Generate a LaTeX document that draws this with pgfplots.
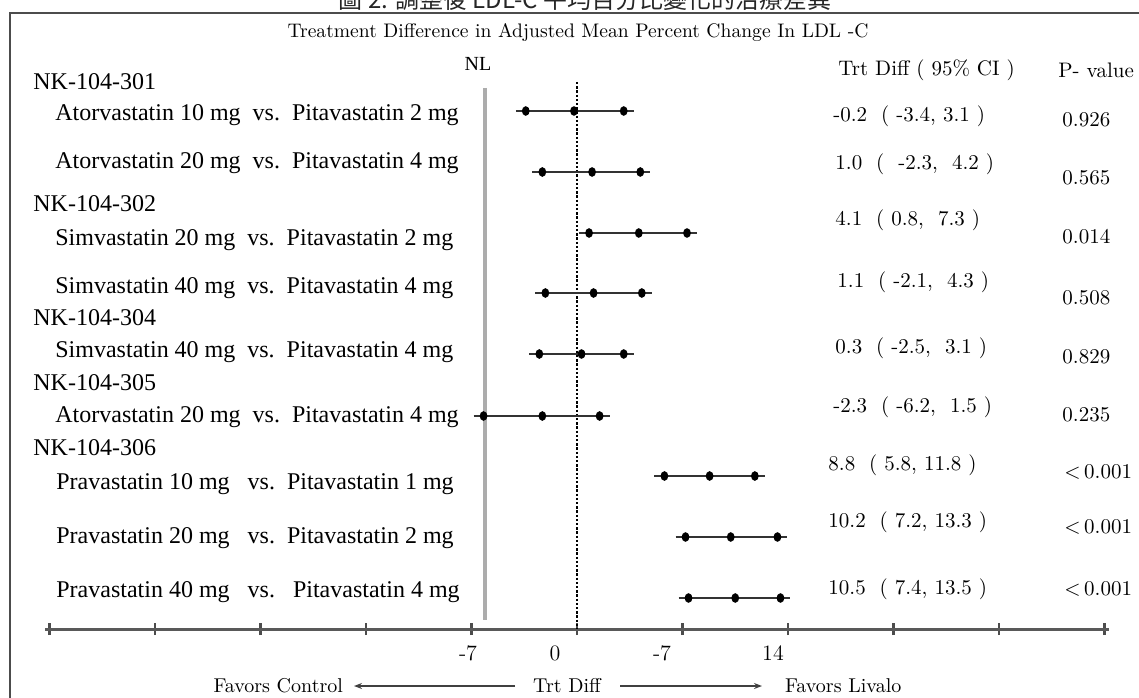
\documentclass[border=0pt]{standalone}
\usepackage{pgfplots}
\pgfplotsset{compat=1.18}
\usepackage{fontspec}
\usetikzlibrary{arrows.meta}
\newfontfamily\tnr{Liberation Serif}
\newfontfamily\cjk{Noto Sans CJK TC}
\begin{document}
\begin{tikzpicture}
\path[use as bounding box] (-22.5pt,-34pt) rectangle (547pt,314.5pt);
\begin{axis}[
  scale only axis, width=532pt, height=314.5pt,
  xmin=-35.3, xmax=35.3, ymin=-629, ymax=0,
  axis x line*=bottom, axis y line=none,
  axis line style={-, line width=1.5pt, black!65},
  xtick={-35,-28,...,35}, xticklabel=\empty,
  xtick align=center, major tick length=6pt,
  tick style={line width=1.1pt, black!70},
  clip=false,
]
% reference lines
\addplot[black, line width=1pt, dash pattern=on 1.2pt off 0.9pt] coordinates {(0,-82) (0,-629)};
\addplot[gray!65, line width=1.7pt] coordinates {(-6.1,-88) (-6.1,-620)};
% forest rows: (lower CI, y) (estimate, y) (upper CI, y)
\pgfplotsset{fr/.style={black!80, line width=1.1pt, shorten <=-5pt, shorten >=-5pt,
  mark=*, mark size=1.8pt, mark options={fill=black, draw=black, xscale=0.75}}}
\addplot[fr] coordinates {(-3.4,-111) (-0.2,-111) (3.1,-111)};
\addplot[fr] coordinates {(-2.3,-172) (1.0,-172) (4.2,-172)};
\addplot[fr] coordinates {(0.8,-233) (4.1,-233) (7.3,-233)};
\addplot[fr] coordinates {(-2.1,-293) (1.1,-293) (4.3,-293)};
\addplot[fr] coordinates {(-2.5,-354) (0.3,-354) (3.1,-354)};
\addplot[fr] coordinates {(-6.2,-416) (-2.3,-416) (1.5,-416)};
\addplot[fr] coordinates {(5.8,-476) (8.8,-476) (11.8,-476)};
\addplot[fr] coordinates {(7.2,-537) (10.2,-537) (13.3,-537)};
\addplot[fr] coordinates {(7.4,-598) (10.5,-598) (13.5,-598)};
\end{axis}
\begin{scope}[x=0.5pt,y=-0.5pt,shift={(-22.5pt,314.5pt)}]
\draw[black!70, line width=1pt] (1139,13) -- (10,13) -- (10,700);
\node[font=\cjk\fontsize{12}{12}\selectfont, text=black!85] at (585,-1) {圖 2. 調整後 LDL-C 平均百分比變化的治療差異};
\node[font=\fontsize{9.8}{10}\selectfont] at (578,33) {Treatment Difference in Adjusted Mean Percent Change In LDL -C};
\node[font=\tnr\fontsize{10}{10}\selectfont] at (478,64) {NL};
% left labels
\begin{scope}[every node/.style={anchor=west, font=\tnr\fontsize{12}{12}\selectfont, inner sep=0pt}]
\node at (33,82) {NK-104-301};
\node at (55,115) {Atorvastatin 10 mg\ \ vs.\ \ Pitavastatin 2 mg};
\node at (55,163) {Atorvastatin 20 mg\ \ vs.\ \ Pitavastatin 4 mg};
\node at (33,204) {NK-104-302};
\node at (55,240) {Simvastatin 20 mg\ \ vs.\ \ Pitavastatin 2 mg};
\node at (55,288) {Simvastatin 40 mg\ \ vs.\ \ Pitavastatin 4 mg};
\node at (33,318) {NK-104-304};
\node at (55,352) {Simvastatin 40 mg\ \ vs.\ \ Pitavastatin 4 mg};
\node at (33,383) {NK-104-305};
\node at (55,417) {Atorvastatin 20 mg\ \ vs.\ \ Pitavastatin 4 mg};
\node at (33,448) {NK-104-306};
\node at (56,484) {Pravastatin 10 mg\ \ \ vs.\ \ Pitavastatin 1 mg};
\node at (56,538) {Pravastatin 20 mg\ \ \ vs.\ \ Pitavastatin 2 mg};
\node at (56,592) {Pravastatin 40 mg\ \ \ vs.\ \ \ Pitavastatin 4 mg};
\end{scope}
% right columns
\begin{scope}[every node/.style={anchor=west, font=\fontsize{10.5}{11}\selectfont, inner sep=0pt}]
\node at (838,70) {Trt Diff ( 95\% CI )};
\node at (1058,70) {P- value};
\node at (833,116) {-0.2\ \ ( -3.4, 3.1 )};   \node at (1062,120) {0.926};
\node at (835,164) {1.0\ \ (\ \ -2.3,\ \ 4.2 )}; \node at (1062,178) {0.565};
\node at (835,220) {4.1\ \ ( 0.8,\ \ 7.3 )};    \node at (1062,237) {0.014};
\node at (837,282) {1.1\ \ ( -2.1,\ \ 4.3 )};   \node at (1062,298) {0.508};
\node at (835,348) {0.3\ \ ( -2.5,\ \ 3.1 )};   \node at (1062,357) {0.829};
\node at (833,407) {-2.3\ \ ( -6.2,\ \ 1.5 )};  \node at (1062,415) {0.235};
\node at (828,465) {8.8\ \ ( 5.8, 11.8 )};      \node at (1064,472) {<\,0.001};
\node at (828,522) {10.2\ \ ( 7.2, 13.3 )};     \node at (1064,527) {<\,0.001};
\node at (828,589) {10.5\ \ ( 7.4, 13.5 )};     \node at (1064,589) {<\,0.001};
\end{scope}
% bottom tick labels and direction row
\begin{scope}[every node/.style={font=\fontsize{11}{11}\selectfont}]
\node at (468,653) {-7};
\node at (555,653) {0};
\node at (662,653) {-7};
\node at (773,653) {14};
\end{scope}
\node[anchor=east, font=\fontsize{10}{10}\selectfont] at (350,686) {Favors Control};
\draw[-{Stealth[length=4pt,width=3pt]}, line width=0.8pt, black!75] (515,686) -- (354,686);
\node[font=\fontsize{10}{10}\selectfont] at (567,686) {Trt Diff};
\draw[-{Stealth[length=4pt,width=3pt]}, line width=0.8pt, black!75] (620,686) -- (762,686);
\node[anchor=west, font=\fontsize{10}{10}\selectfont] at (778,686) {Favors Livalo};
\end{scope}
\end{tikzpicture}
\end{document}
